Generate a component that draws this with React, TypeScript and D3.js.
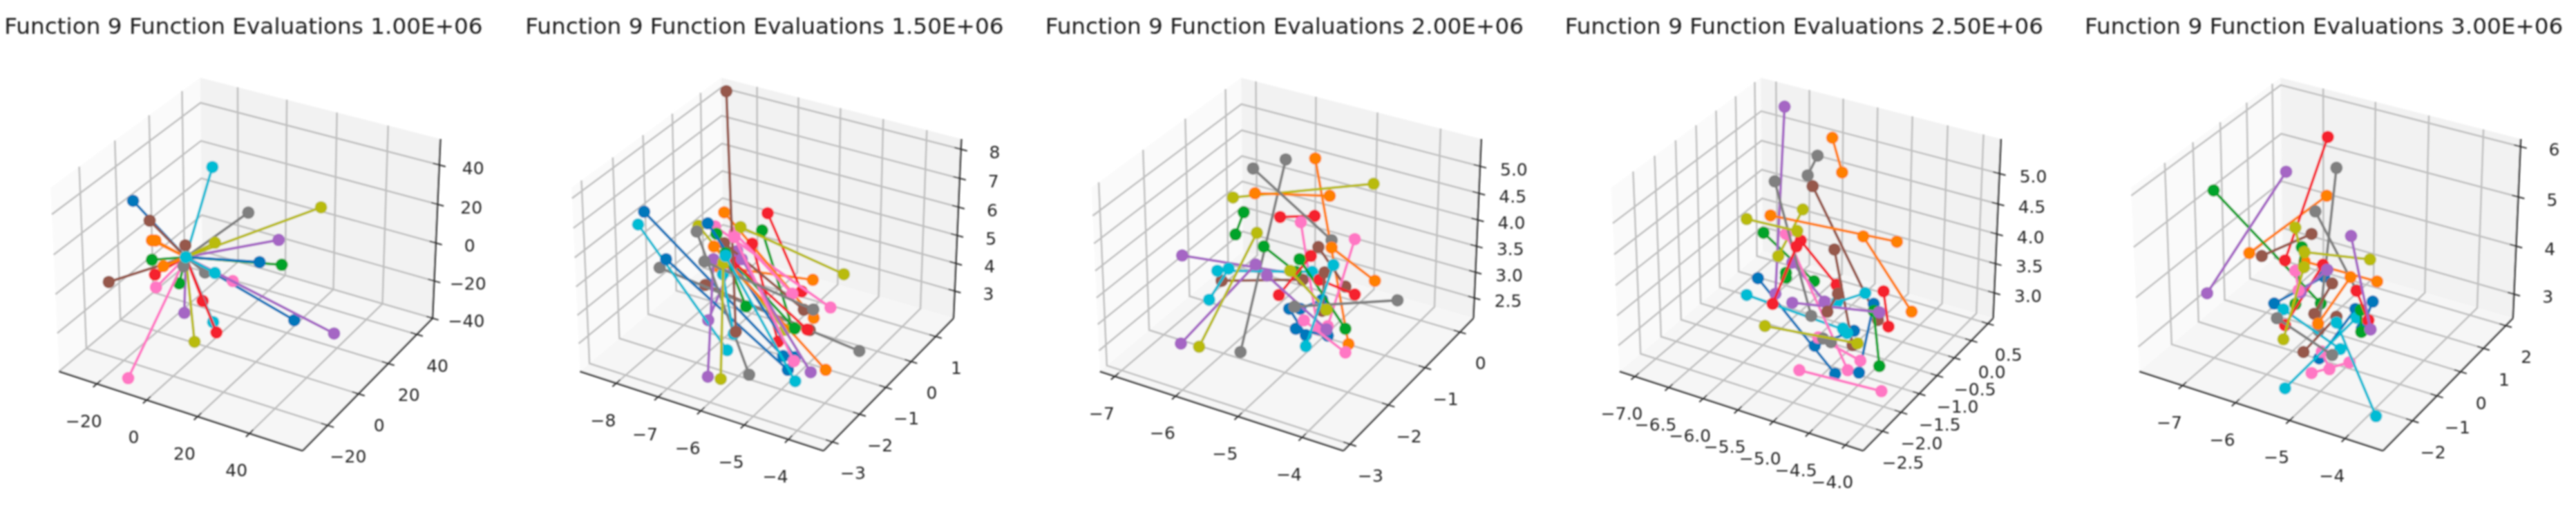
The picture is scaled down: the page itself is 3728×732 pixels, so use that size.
import { useEffect, useRef } from 'react';
import * as d3 from 'd3';

// Colour cycle of the plots, three segments per colour in every panel
const colors = ['#0077bb', '#ff8000', '#00a32a', '#f5202e', '#a566c4', '#96584c', '#ff77c4', '#808080', '#b9bb0a', '#00bcd4'];

const titles = ['1.00E+06', '1.50E+06', '2.00E+06', '2.50E+06', '3.00E+06'];

// Axis limits and ticks
const xLims = [[-35.5, 60], [-8.88, -3.22], [-7.25, -3.37], [-7.23, -3.76], [-7.83, -3.33]];
const yLims = [[-35.5, 51.4], [-3.31, 1.75], [-3.16, 0.4], [-3.0, 0.66], [-3.16, 2.33]];
const zLims = [[-40, 53], [2.0, 8.35], [2.1, 5.5], [2.56, 5.56], [2.49, 6.15]];
const xTicks = [[-20, 0, 20, 40], [-8, -7, -6, -5, -4], [-7, -6, -5, -4], [-7, -6.5, -6, -5.5, -5, -4.5, -4], [-7, -6, -5, -4]];
const yTicks = [[-20, 0, 20, 40], [-3, -2, -1, 0, 1], [-3, -2, -1, 0], [-2.5, -2, -1.5, -1, -0.5, 0, 0.5], [-2, -1, 0, 1, 2]];
const zTicks = [[-40, -20, 0, 20, 40], [3, 4, 5, 6, 7, 8], [2.5, 3, 3.5, 4, 4.5, 5], [3, 3.5, 4, 4.5, 5], [3, 4, 5, 6]];
const zDigits = [0, 0, 1, 1, 0];
const xyDigits = [0, 0, 0, 1, 0];

// Segment ends [x1, z1, x2, z2], read off against the x tick row and the z tick column
// (depth can't be read from a flat picture, so ends are kept on a sheet facing the viewer).
const segs1 = [
  [14.2, -8.3, -6.5, 20.9], [14.2, -8.3, 56.7, -41], [14.2, -8.3, 43.1, -10.9],
  [14.2, -8.3, 0.9, 0.4], [14.2, -8.3, 2.3, 0.3], [14.2, -8.3, 5.4, -13],
  [14.2, -8.3, 0.9, -9.7], [14.2, -8.3, 51.8, -12.3], [14.2, -8.3, 11.6, -21.9],
  [14.2, -8.3, 2.1, -17.4], [14.2, -8.3, 20.8, -31], [14.2, -8.3, 26.2, -47.4],
  [14.2, -8.3, 50.6, 0.6], [14.2, -8.3, 13.6, -37.2], [14.2, -8.3, 72.3, -47.9],
  [14.2, -8.3, 0, 10.6], [14.2, -8.3, -16, -21.2], [14.2, -8.3, 14, -2.2],
  [14.2, -8.3, 2.5, -24], [14.2, -8.3, 32.6, -20.7], [14.2, -8.3, -8.4, -71.1],
  [14.2, -8.3, 38.7, 14.8], [14.2, -8.3, 21.7, -16.3], [14.2, -8.3, 13.3, -13],
  [14.2, -8.3, 67.2, 17.5], [14.2, -8.3, 17.6, -52.2], [14.2, -8.3, 25.6, -0.8],
  [14.2, -8.3, 24.6, 38.4], [14.2, -8.3, 24.9, -42], [14.2, -8.3, 25.6, -16.5],
];
const segs2 = [
  [-7.39, 5.77, -4.16, 0.66], [-6.88, 4.09, -4.05, 0.17], [-5.91, 5.36, -3.89, 0.62],
  [-5.66, 3.83, -3.47, 3.36], [-5.53, 5.75, -3.45, 2.01], [-5.77, 4.54, -3.17, 0.17],
  [-4.65, 5.11, -3.95, 1.68], [-5.71, 4.99, -5.02, 2.42], [-5.5, 4.3, -3.89, 1.64],
  [-4.52, 5.72, -3.73, 2.95], [-4.88, 4.64, -4.28, 1.17], [-5.29, 3.97, -3.6, 1.6],
  [-5.23, 4.38, -5.9, 1.93], [-5.78, 4.09, -5.91, -0.07], [-5.12, 4.09, -3.52, 0.09],
  [-5.97, 3.18, -3.54, 1.58], [-5.53, 4.66, -3.68, 2.3], [-5.48, 10.04, -5.26, 1.52],
  [-5.74, 5.25, -3.06, 2.38], [-5.29, 5.03, -3.95, 2.87], [-5.29, 4.87, -3.91, 0.48],
  [-7.03, 3.79, -2.39, 0.84], [-6.17, 5.07, -4.95, 0], [-5.99, 4.01, -3.46, 2.31],
  [-6.13, 5.27, -4.12, 1.59], [-5.15, 5.23, -2.75, 3.56], [-5.55, 3.97, -5.61, -0.15],
  [-7.53, 5.32, -5.46, 0.87], [-5.56, 3.56, -5.31, 1.45], [-5.5, 4.21, -3.88, -0.23],
];
const segs3 = [
  [-3.71, 2.45, -4.06, 2.28], [-4.235, 2.28, -3.97, 1.78], [-4.13, 1.9, -3.62, 1.77],
  [-3.82, 5.13, -3.29, 1.61], [-4.78, 4.47, -3.59, 4.42], [-3.56, 3.44, -2.87, 2.81],
  [-4.96, 4.11, -5.09, 3.69], [-4.64, 3.46, -4.13, 2.98], [-4.07, 3.22, -3.34, 1.9],
  [-4.38, 4.02, -3.83, 4.04], [-3.89, 3.28, -4.4, 2.54], [-3.75, 2.83, -3.19, 2.55],
  [-5.94, 3.29, -4.13, 2.94], [-4.77, 3.12, -5.96, 1.62], [-4.59, 2.91, -3.64, 1.89],
  [-5.31, 2.81, -4.02, 2.83], [-3.77, 3.45, -3.34, 2.7], [-3.67, 2.97, -3.71, 2.24],
  [-4.05, 3.92, -3.78, 1.89], [-3.19, 3.6, -3.62, 1.95], [-4.0, 2.06, -3.34, 1.45],
  [-4.29, 5.11, -5.01, 1.46], [-4.81, 4.94, -3.56, 3.58], [-4.15, 2.32, -2.51, 2.44],
  [-5.13, 4.39, -2.89, 4.65], [-4.75, 3.72, -5.67, 1.56], [-4.22, 3.0, -3.64, 2.26],
  [-5.38, 3.0, -3.87, 2.98], [-5.2, 3.04, -5.51, 2.45], [-3.53, 3.11, -3.97, 1.57],
];
const segs4 = [
  [-5.26, 3.23, -4.16, 1.63], [-4.45, 2.1, -3.89, 2.35], [-3.61, 2.8, -3.82, 1.65],
  [-4.2, 5.58, -4.06, 5.0], [-5.08, 4.28, -3.28, 3.84], [-3.76, 3.93, -3.07, 2.67],
  [-5.18, 3.99, -4.46, 3.18], [-4.86, 3.32, -4.86, 3.24], [-3.61, 2.68, -3.53, 1.76],
  [-3.47, 3.01, -3.4, 2.42], [-4.65, 3.86, -4.14, 3.12], [-5.05, 2.8, -4.71, 3.76],
  [-4.88, 6.1, -5.01, 2.97], [-4.77, 3.49, -4.31, 2.84], [-4.77, 2.82, -3.53, 2.66],
  [-4.48, 4.77, -3.55, 2.53], [-4.17, 3.71, -3.91, 2.11], [-4.12, 2.97, -4.27, 2.67],
  [-4.67, 1.69, -3.5, 1.34], [-4.86, 3.97, -3.98, 1.69], [-4.4, 2.24, -3.8, 1.85],
  [-4.41, 5.28, -4.55, 4.95], [-5.02, 4.85, -4.5, 2.6], [-4.33, 2.22, -4.22, 2.16],
  [-4.62, 4.38, -4.97, 3.6], [-5.42, 4.22, -4.7, 4.02], [-5.16, 2.43, -3.84, 2.14],
  [-5.42, 2.95, -4.04, 2.37], [-4.13, 2.83, -3.73, 2.98], [-4.05, 2.39, -3.99, 2.31],
];
const segs5 = [
  [-5.34, 2.79, -4.42, 3.34], [-3.84, 2.68, -4.51, 1.67], [-3.52, 2.83, -3.72, 2.28],
  [-5.8, 3.82, -4.37, 4.99], [-4.78, 3.65, -3.44, 3.24], [-3.93, 3.33, -4.53, 2.38],
  [-6.46, 5.1, -4.48, 2.79], [-4.83, 3.94, -4.95, 2.78], [-3.74, 2.66, -3.73, 2.21],
  [-4.35, 6.19, -5.14, 3.67], [-4.44, 3.58, -5.14, 2.35], [-3.82, 3.05, -3.6, 2.45],
  [-5.12, 5.48, -6.58, 3.0], [-4.36, 3.48, -4.85, 3.02], [-3.92, 4.17, -3.56, 2.26],
  [-4.65, 4.21, -5.57, 3.76], [-4.27, 3.2, -4.6, 2.58], [-4.19, 2.52, -4.8, 1.8],
  [-4.65, 1.37, -3.95, 1.59], [-4.46, 1.81, -4.32, 1.45], [-4.95, 3.46, -4.89, 3.06],
  [-4.19, 5.56, -4.52, 2.24], [-4.58, 4.67, -3.82, 3.06], [-5.29, 2.49, -4.27, 1.74],
  [-4.95, 4.34, -4.8, 3.54], [-4.78, 3.84, -3.57, 3.69], [-4.79, 3.53, -5.17, 2.06],
  [-5.17, 2.67, -4.12, 1.86], [-5.14, 1.06, -3.82, 2.5], [-4.19, 2.4, -3.46, 0.49],
];
const allSegs = [segs1, segs2, segs3, segs4, segs5];

// Layout of the five 3D boxes
const centerX = [360.5, 1114.4, 1866.8, 2618.9, 3371.2];
const centerY = 369.7;
const focal = 3535;
const halfXY = 0.5714;
const halfZ = 0.4286;

// elev 30, azim -60, dist 10 view, the same camera matplotlib uses by default
function view(a: number, b: number, c: number) {
  const xv = 0.866 * a + 0.5 * b;
  const yv = -0.25 * a + 0.433 * b + 0.866 * c;
  const depth = 10 - 0.433 * a + 0.75 * b - 0.5 * c;
  return [(focal * xv) / depth, (-focal * yv) / depth];
}

const fmt = (v: number, digits: number) => v.toFixed(digits).replace('-', '\u2212');

export default function App() {
  const ref = useRef<SVGSVGElement>(null);

  useEffect(() => {
    if (!ref.current) return;
    const svg = d3.select(ref.current);
    svg.selectAll('*').remove();

    svg.append('defs').append('filter')
      .attr('id', 'soft')
      .attr('filterUnits', 'userSpaceOnUse')
      .attr('x', 0).attr('y', 0).attr('width', 3728).attr('height', 732)
      .append('feGaussianBlur')
      .attr('stdDeviation', 0.9);

    const root = svg.append('g').attr('filter', 'url(#soft)');

    titles.forEach((title, p) => {
      const g = root.append('g').attr('transform', `translate(${centerX[p]},${centerY})`);
      const sx = d3.scaleLinear().domain(xLims[p]).range([-halfXY, halfXY]);
      const sy = d3.scaleLinear().domain(yLims[p]).range([-halfXY, halfXY]);
      const sz = d3.scaleLinear().domain(zLims[p]).range([-halfZ, halfZ]);
      const pt = (x: number, y: number, z: number) => view(sx(x), sy(y), sz(z));
      const [x0, x1] = xLims[p];
      const [y0, y1] = yLims[p];
      const [z0, z1] = zLims[p];
      const line = d3.line();

      // Panes
      const panes = [
        { pts: [pt(x0, y0, z0), pt(x0, y1, z0), pt(x0, y1, z1), pt(x0, y0, z1)], fill: '#fafafa' },
        { pts: [pt(x0, y1, z0), pt(x1, y1, z0), pt(x1, y1, z1), pt(x0, y1, z1)], fill: '#f2f2f2' },
        { pts: [pt(x0, y0, z0), pt(x1, y0, z0), pt(x1, y1, z0), pt(x0, y1, z0)], fill: '#f6f6f6' },
      ];
      panes.forEach(d => {
        g.append('path').attr('d', line(d.pts as [number, number][]) + 'Z').attr('fill', d.fill);
      });

      // Grid
      const grid = (a: number[], b: number[], c: number[]) => {
        g.append('path')
          .attr('d', line([a, b, c] as [number, number][]))
          .attr('fill', 'none')
          .attr('stroke', '#c0c0c0')
          .attr('stroke-width', 2.6);
      };
      xTicks[p].forEach(v => grid(pt(v, y0, z0), pt(v, y1, z0), pt(v, y1, z1)));
      yTicks[p].forEach(v => grid(pt(x1, v, z0), pt(x0, v, z0), pt(x0, v, z1)));
      zTicks[p].forEach(v => grid(pt(x0, y0, v), pt(x0, y1, v), pt(x1, y1, v)));

      // Axis lines
      const axisPath = (a: number[], b: number[], w = 2.6) => {
        g.append('path')
          .attr('d', line([a, b] as [number, number][]))
          .attr('fill', 'none')
          .attr('stroke', '#333')
          .attr('stroke-width', w);
      };
      axisPath(pt(x0, y0, z0), pt(x1, y0, z0));
      axisPath(pt(x1, y0, z0), pt(x1, y1, z0));
      axisPath(pt(x1, y1, z0), pt(x1, y1, z1));

      // Ticks and labels
      const dy = (y1 - y0) * 0.025;
      const dx = (x1 - x0) * 0.025;
      const label = (pos: number[], ox: number, oy: number, text: string) => {
        g.append('text')
          .attr('x', pos[0] + ox)
          .attr('y', pos[1] + oy)
          .attr('dy', '0.36em')
          .attr('text-anchor', 'middle')
          .attr('font-family', '"DejaVu Sans"')
          .attr('font-size', 25)
          .attr('fill', '#262626')
          .text(text);
      };
      xTicks[p].forEach(v => {
        axisPath(pt(v, y0 - dy, z0), pt(v, y0 + dy, z0), 2);
        label(pt(v, y0, z0), -19, 53.5, fmt(v, xyDigits[p]));
      });
      yTicks[p].forEach(v => {
        axisPath(pt(x1 - dx, v, z0), pt(x1 + dx, v, z0), 2);
        label(pt(x1, v, z0), 30, 45, fmt(v, xyDigits[p]));
      });
      zTicks[p].forEach(v => {
        axisPath(pt(x1 - dx, y1, v), pt(x1 + dx, y1, v), 2);
        label(pt(x1, y1, v), 49, 4, fmt(v, zDigits[p]));
      });

      // Segments: one plotted colour after the other, three rounds of the cycle
      const hScale = d3.scaleLinear().domain(xLims[p])
        .range([pt(x0, y0, z0)[0], pt(x1, y0, z0)[0]]);
      const vScale = d3.scaleLinear().domain(zLims[p])
        .range([pt(x1, y1, z0)[1], pt(x1, y1, z1)[1]]);
      d3.range(3).forEach(round => {
        colors.forEach((color, c) => {
          const [xa, za, xb, zb] = allSegs[p][c * 3 + round];
          const ends: [number, number][] = [[hScale(xa), vScale(za)], [hScale(xb), vScale(zb)]];
          g.append('path')
            .attr('d', line(ends))
            .attr('fill', 'none')
            .attr('stroke', color)
            .attr('stroke-width', 3.8);
          ends.forEach(e => {
            g.append('circle')
              .attr('cx', e[0])
              .attr('cy', e[1])
              .attr('r', 9)
              .attr('fill', color);
          });
        });
      });

      // Title
      g.append('text')
        .attr('x', -8)
        .attr('y', 49 - centerY)
        .attr('text-anchor', 'middle')
        .attr('font-family', '"DejaVu Sans"')
        .attr('font-size', 32.7)
        .attr('fill', '#1a1a1a')
        .text(`Function 9 Function Evaluations ${title}`);
    });
  }, []);

  return (
    <svg
      ref={ref}
      width={3728}
      height={732}
      style={{ position: 'absolute', left: 0, top: 0, display: 'block', background: '#fff' }}
    />
  );
}
